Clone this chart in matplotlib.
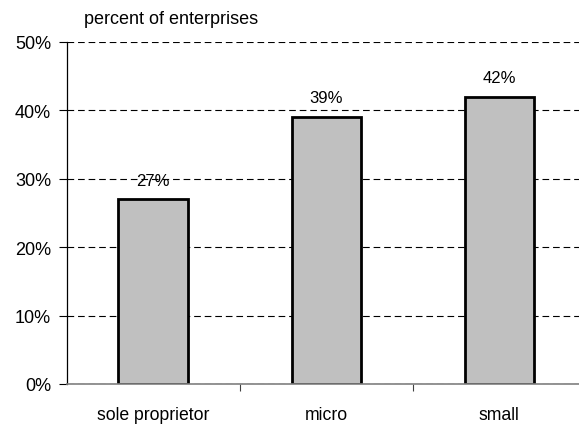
import matplotlib
matplotlib.use("Agg")
import matplotlib.pyplot as plt

categories = ["sole proprietor", "micro", "small"]
values = [27, 39, 42]
y_ticks = [0, 10, 20, 30, 40, 50]
y_tick_labels = ["0%", "10%", "20%", "30%", "40%", "50%"]

plt.rcParams["font.family"] = ["Liberation Sans", "DejaVu Sans"]

fig = plt.figure(figsize=(5.79, 4.27), dpi=100)
ax = fig.add_axes([0.1149, 0.0984, 0.897, 0.8009])

x = range(len(categories))
ax.bar(x, values, width=0.4, color="#c0c0c0", edgecolor="black", linewidth=2, zorder=2)
for xi, v in zip(x, values):
    ax.annotate(f"{v}%", (xi, v), xytext=(0, 8.5), textcoords="offset points",
                ha="center", va="bottom", fontsize=12, zorder=3)

ax.set_xlim(-0.5, len(categories) - 0.5)
ax.set_ylim(0, 50)
ax.set_yticks(y_ticks)
ax.set_yticklabels(y_tick_labels, fontsize=13)
ax.yaxis.grid(True, color="black", linestyle=(0, (6, 3.5)), linewidth=0.8, zorder=0)
ax.set_axisbelow(True)

ax.set_xticks([i + 0.5 for i in range(len(categories) - 1)])
ax.set_xticklabels([])
ax.set_xticks(list(x), minor=True)
ax.set_xticklabels(categories, minor=True, fontsize=12.7)
ax.tick_params(axis="x", which="minor", length=0, pad=16)
ax.tick_params(axis="x", which="major", length=5, direction="out", color="#404040")
ax.tick_params(axis="y", length=5.5, direction="out", pad=5.5)

for side in ("top", "right"):
    ax.spines[side].set_visible(False)
ax.spines["left"].set_linewidth(0.9)
ax.spines["bottom"].set_color("#808080")
ax.spines["bottom"].set_linewidth(1.2)

fig.text(0.145, 1 - 24 / 427, "percent of enterprises", fontsize=13, ha="left", va="baseline")

fig.savefig("out.png", dpi=100)
